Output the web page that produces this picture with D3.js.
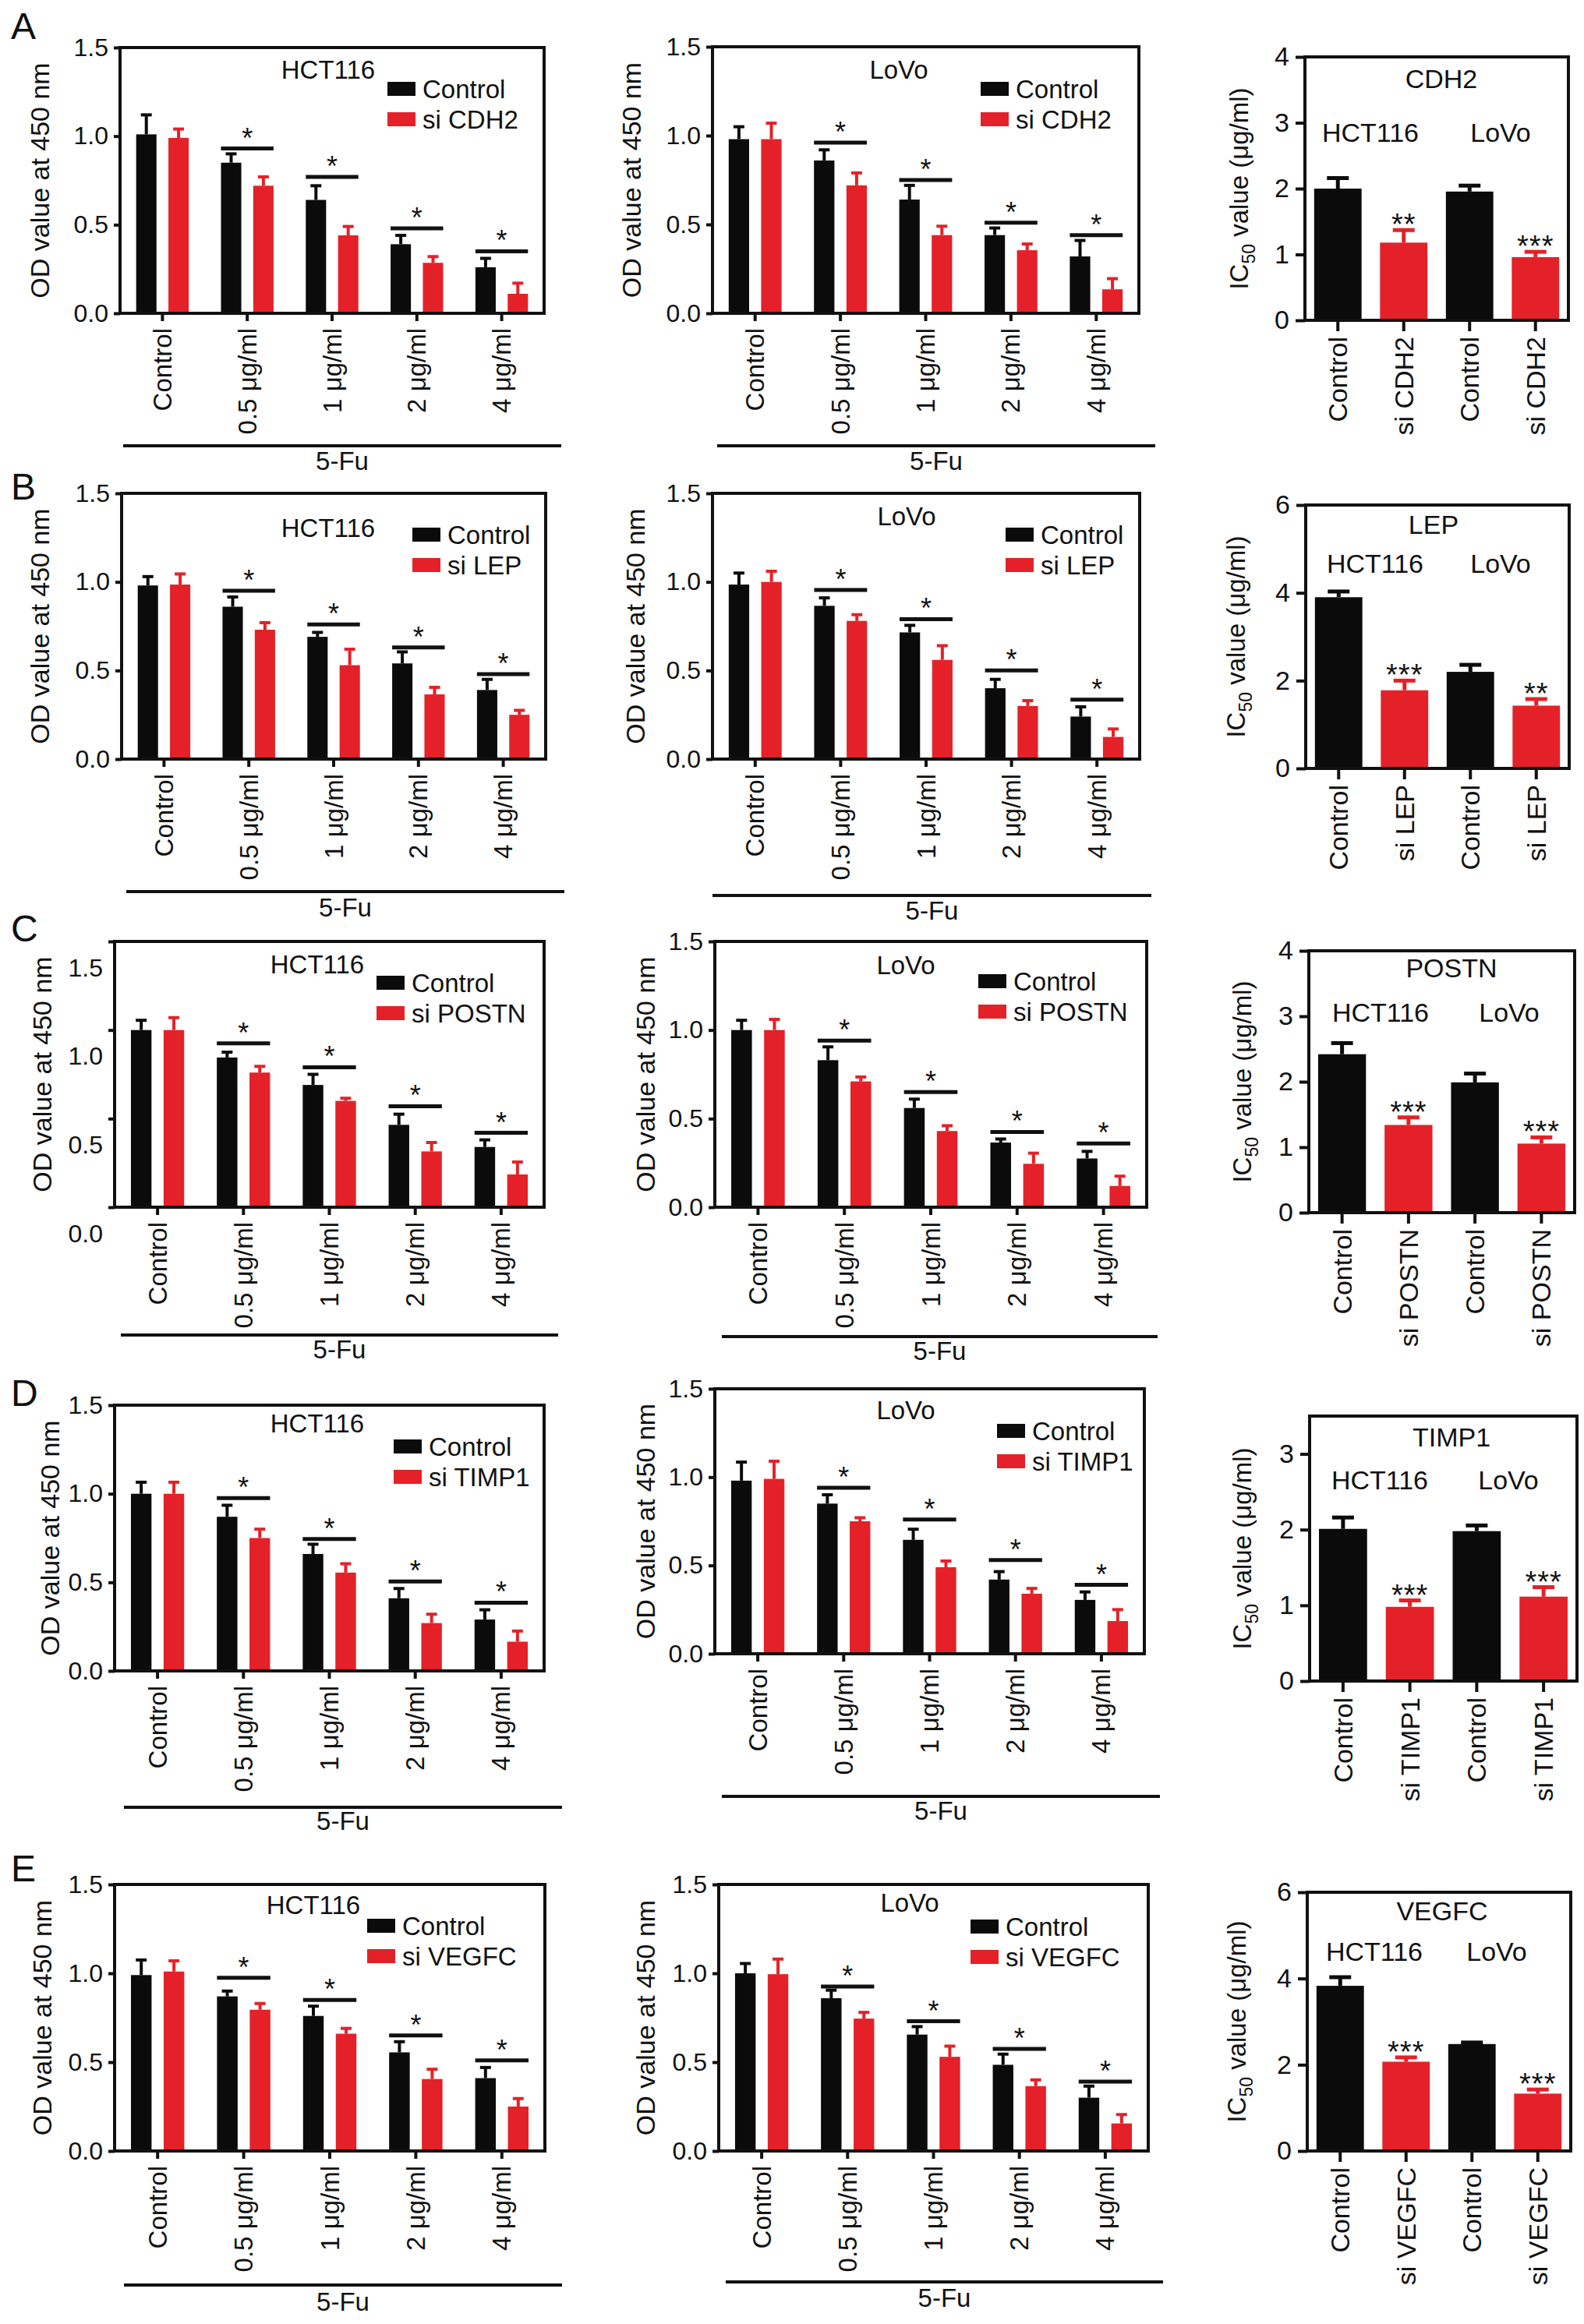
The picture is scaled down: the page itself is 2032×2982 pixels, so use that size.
<!DOCTYPE html>
<html>
<head>
<meta charset="utf-8">
<script src="https://cdn.jsdelivr.net/npm/d3@7"></script>
<style>
  body { margin: 0; background: #fff; }
  svg { display: block; font-family: 'Liberation Sans', Arial, Helvetica, sans-serif; }
</style>
</head>
<body>
<script>
(function() {
  'use strict';

  // ---- data ----
  const doses = ['Control', '0.5 μg/ml', '1 μg/ml', '2 μg/ml', '4 μg/ml'];
  const series = ['Control', 'si'];
  const odTicks = [0, 0.5, 1.0, 1.5];

  // CDH2
  const cdh2HctCtrl = [1.01, 0.85, 0.64, 0.39, 0.26];
  const cdh2HctCtrlErr = [0.11, 0.05, 0.08, 0.05, 0.05];
  const cdh2HctSi = [0.99, 0.72, 0.44, 0.285, 0.11];
  const cdh2HctSiErr = [0.05, 0.05, 0.05, 0.035, 0.06];
  const cdh2HctSig = [null, 0.93, 0.77, 0.48, 0.35];
  const cdh2LovoCtrl = [0.98, 0.86, 0.64, 0.44, 0.32];
  const cdh2LovoCtrlErr = [0.07, 0.06, 0.08, 0.04, 0.09];
  const cdh2LovoSi = [0.98, 0.72, 0.44, 0.355, 0.135];
  const cdh2LovoSiErr = [0.09, 0.07, 0.05, 0.035, 0.06];
  const cdh2LovoSig = [null, 0.96, 0.75, 0.51, 0.44];

  // LEP
  const lepHctCtrl = [0.98, 0.86, 0.69, 0.54, 0.39];
  const lepHctCtrlErr = [0.05, 0.055, 0.025, 0.065, 0.06];
  const lepHctSi = [0.985, 0.73, 0.53, 0.365, 0.25];
  const lepHctSiErr = [0.06, 0.04, 0.09, 0.04, 0.025];
  const lepHctSig = [null, 0.95, 0.76, 0.63, 0.48];
  const lepLovoCtrl = [0.985, 0.865, 0.715, 0.40, 0.24];
  const lepLovoCtrlErr = [0.065, 0.045, 0.04, 0.05, 0.055];
  const lepLovoSi = [1.0, 0.78, 0.56, 0.30, 0.125];
  const lepLovoSiErr = [0.06, 0.035, 0.08, 0.03, 0.045];
  const lepLovoSig = [null, 0.955, 0.79, 0.50, 0.335];

  // POSTN
  const postnHctCtrl = [1.0, 0.845, 0.69, 0.465, 0.34];
  const postnHctCtrlErr = [0.055, 0.03, 0.06, 0.06, 0.04];
  const postnHctSi = [1.0, 0.76, 0.60, 0.315, 0.185];
  const postnHctSiErr = [0.07, 0.035, 0.015, 0.05, 0.07];
  const postnHctSig = [null, 0.925, 0.79, 0.57, 0.42];
  const postnLovoCtrl = [1.0, 0.83, 0.56, 0.365, 0.275];
  const postnLovoCtrlErr = [0.055, 0.075, 0.05, 0.02, 0.04];
  const postnLovoSi = [1.0, 0.71, 0.43, 0.245, 0.12];
  const postnLovoSiErr = [0.06, 0.025, 0.03, 0.06, 0.055];
  const postnLovoSig = [null, 0.94, 0.65, 0.425, 0.36];

  // TIMP1
  const timp1HctCtrl = [1.0, 0.87, 0.66, 0.41, 0.29];
  const timp1HctCtrlErr = [0.065, 0.065, 0.055, 0.055, 0.055];
  const timp1HctSi = [1.0, 0.75, 0.555, 0.27, 0.165];
  const timp1HctSiErr = [0.065, 0.05, 0.05, 0.05, 0.06];
  const timp1HctSig = [null, 0.975, 0.745, 0.505, 0.385];
  const timp1LovoCtrl = [0.98, 0.85, 0.645, 0.42, 0.305];
  const timp1LovoCtrlErr = [0.105, 0.05, 0.06, 0.045, 0.045];
  const timp1LovoSi = [0.99, 0.75, 0.49, 0.34, 0.185];
  const timp1LovoSiErr = [0.10, 0.02, 0.035, 0.03, 0.065];
  const timp1LovoSig = [null, 0.94, 0.76, 0.53, 0.39];

  // VEGFC
  const vegfcHctCtrl = [0.99, 0.87, 0.76, 0.555, 0.41];
  const vegfcHctCtrlErr = [0.085, 0.03, 0.055, 0.06, 0.06];
  const vegfcHctSi = [1.01, 0.795, 0.66, 0.405, 0.25];
  const vegfcHctSiErr = [0.06, 0.035, 0.03, 0.055, 0.045];
  const vegfcHctSig = [null, 0.975, 0.85, 0.65, 0.51];
  const vegfcLovoCtrl = [1.0, 0.86, 0.655, 0.485, 0.30];
  const vegfcLovoCtrlErr = [0.055, 0.045, 0.045, 0.06, 0.065];
  const vegfcLovoSi = [0.995, 0.745, 0.53, 0.365, 0.155];
  const vegfcLovoSiErr = [0.085, 0.035, 0.06, 0.035, 0.05];
  const vegfcLovoSig = [null, 0.925, 0.73, 0.575, 0.39];

  // IC50 (HCT116 control, HCT116 si, LoVo control, LoVo si)
  const cdh2Ic50 = [2.0, 1.18, 1.955, 0.96];
  const cdh2Ic50Err = [0.16, 0.19, 0.09, 0.08];
  const cdh2Stars = ['', '**', '', '***'];
  const lepIc50 = [3.9, 1.78, 2.2, 1.43];
  const lepIc50Err = [0.13, 0.22, 0.16, 0.15];
  const lepStars = ['', '***', '', '**'];
  const postnIc50 = [2.42, 1.34, 1.99, 1.055];
  const postnIc50Err = [0.17, 0.115, 0.135, 0.095];
  const postnStars = ['', '***', '', '***'];
  const timp1Ic50 = [2.01, 0.98, 1.98, 1.115];
  const timp1Ic50Err = [0.15, 0.085, 0.075, 0.125];
  const timp1Stars = ['', '***', '', '***'];
  const vegfcIc50 = [3.83, 2.07, 2.48, 1.33];
  const vegfcIc50Err = [0.20, 0.10, 0.035, 0.095];
  const vegfcStars = ['', '***', '', '***'];

  const ic50Max = [4, 6, 4, 3.5, 6];
  const ic50Ticks = [[0, 1, 2, 3, 4], [0, 2, 4, 6], [0, 1, 2, 3, 4], [0, 1, 2, 3], [0, 2, 4, 6]];

  const black = '#0b0b0b';
  const red = '#e42128';
  const ink = '#111';

  const W = 2032, H = 2982;
  const svg = d3.select('body').append('svg')
    .attr('width', W).attr('height', H);
  svg.append('rect').attr('width', W).attr('height', H).attr('fill', '#fff');

  // ---- layout of the OD panels ----
  const odPanels = [
    {gene: 'CDH2', cell: 'HCT116', ctrl: cdh2HctCtrl, ctrlErr: cdh2HctCtrlErr, si: cdh2HctSi, siErr: cdh2HctSiErr, sig: cdh2HctSig,
      frame: [154, 698, 61, 402], title: [421, 101], legend: [497, 114], yTitleX: 51, fu: [158, 720, 572, 603]},
    {gene: 'CDH2', cell: 'LoVo', ctrl: cdh2LovoCtrl, ctrlErr: cdh2LovoCtrlErr, si: cdh2LovoSi, siErr: cdh2LovoSiErr, sig: cdh2LovoSig,
      frame: [914, 1461, 60, 402], title: [1153, 101], legend: [1258, 114], yTitleX: 810, fu: [920, 1482, 572, 603]},
    {gene: 'LEP', cell: 'HCT116', ctrl: lepHctCtrl, ctrlErr: lepHctCtrlErr, si: lepHctSi, siErr: lepHctSiErr, sig: lepHctSig,
      frame: [156, 700, 633, 974], title: [421, 689], legend: [529, 686], yTitleX: 51, fu: [162, 724, 1144, 1176]},
    {gene: 'LEP', cell: 'LoVo', ctrl: lepLovoCtrl, ctrlErr: lepLovoCtrlErr, si: lepLovoSi, siErr: lepLovoSiErr, sig: lepLovoSig,
      frame: [914, 1462, 633, 974], title: [1163, 674], legend: [1290, 686], yTitleX: 815, fu: [914, 1477, 1149, 1180]},
    {gene: 'POSTN', cell: 'HCT116', ctrl: postnHctCtrl, ctrlErr: postnHctCtrlErr, si: postnHctSi, siErr: postnHctSiErr, sig: postnHctSig,
      frame: [147, 698, 1208, 1549], title: [407, 1249], legend: [483, 1261], yTitleX: 54, fu: [155, 716, 1713, 1743], labelShift: 34},
    {gene: 'POSTN', cell: 'LoVo', ctrl: postnLovoCtrl, ctrlErr: postnLovoCtrlErr, si: postnLovoSi, siErr: postnLovoSiErr, sig: postnLovoSig,
      frame: [917, 1471, 1208, 1549], title: [1162, 1250], legend: [1255, 1259], yTitleX: 828, fu: [926, 1485, 1715, 1745]},
    {gene: 'TIMP1', cell: 'HCT116', ctrl: timp1HctCtrl, ctrlErr: timp1HctCtrlErr, si: timp1HctSi, siErr: timp1HctSiErr, sig: timp1HctSig,
      frame: [147, 698, 1803, 2144], title: [407, 1838], legend: [505, 1856], yTitleX: 64, fu: [159, 721, 2319, 2348]},
    {gene: 'TIMP1', cell: 'LoVo', ctrl: timp1LovoCtrl, ctrlErr: timp1LovoCtrlErr, si: timp1LovoSi, siErr: timp1LovoSiErr, sig: timp1LovoSig,
      frame: [917, 1468, 1782, 2122], title: [1162, 1821], legend: [1279, 1836], yTitleX: 828, fu: [926, 1488, 2305, 2335]},
    {gene: 'VEGFC', cell: 'HCT116', ctrl: vegfcHctCtrl, ctrlErr: vegfcHctCtrlErr, si: vegfcHctSi, siErr: vegfcHctSiErr, sig: vegfcHctSig,
      frame: [147, 699, 2418, 2760], title: [402, 2456], legend: [471, 2471], yTitleX: 54, fu: [159, 721, 2932, 2965]},
    {gene: 'VEGFC', cell: 'LoVo', ctrl: vegfcLovoCtrl, ctrlErr: vegfcLovoCtrlErr, si: vegfcLovoSi, siErr: vegfcLovoSiErr, sig: vegfcLovoSig,
      frame: [922, 1473, 2418, 2760], title: [1167, 2453], legend: [1245, 2472], yTitleX: 828, fu: [931, 1492, 2928, 2960]}
  ];

  const icPanels = [
    {gene: 'CDH2', vals: cdh2Ic50, errs: cdh2Ic50Err, stars: cdh2Stars, frame: [1674, 2012, 73, 411],
      geneTitle: [1849, 113], cellY: 182, cellX: [1758, 1925], yTitleX: 1589},
    {gene: 'LEP', vals: lepIc50, errs: lepIc50Err, stars: lepStars, frame: [1675, 2013, 648, 986],
      geneTitle: [1839, 685], cellY: 735, cellX: [1764, 1925], yTitleX: 1585},
    {gene: 'POSTN', vals: postnIc50, errs: postnIc50Err, stars: postnStars, frame: [1679, 2020, 1220, 1556],
      geneTitle: [1862, 1254], cellY: 1311, cellX: [1771, 1936], yTitleX: 1593},
    {gene: 'TIMP1', vals: timp1Ic50, errs: timp1Ic50Err, stars: timp1Stars, frame: [1680, 2023, 1817, 2157],
      geneTitle: [1862, 1856], cellY: 1911, cellX: [1770, 1935], yTitleX: 1593},
    {gene: 'VEGFC', vals: vegfcIc50, errs: vegfcIc50Err, stars: vegfcStars, frame: [1677, 2015, 2428, 2760],
      geneTitle: [1850, 2464], cellY: 2516, cellX: [1763, 1920], yTitleX: 1586}
  ];

  const letters = [['A', 14, 50], ['B', 14, 641], ['C', 14, 1208], ['D', 14, 1804], ['E', 14, 2414]];

  svg.selectAll('text.letter')
    .data(letters)
    .enter()
    .append('text')
    .attr('class', 'letter')
    .attr('x', (d) => d[1])
    .attr('y', (d) => d[2])
    .attr('font-size', 48)
    .attr('fill', ink)
    .text((d) => d[0]);

  function drawOd(p) {
    const [l, r, t, b] = p.frame;
    const g = svg.append('g');

    const x = d3.scaleBand().domain(doses).range([l, r]);
    const xs = d3.scaleBand().domain(series).range([0, x.bandwidth()])
      .paddingInner(0.37).paddingOuter(0.5);
    const y = d3.scaleLinear().domain([0, 1.5]).range([b, t]);

    const rows = doses.map((d, i) => ({
      dose: d,
      vals: [p.ctrl[i], p.si[i]],
      errs: [p.ctrlErr[i], p.siErr[i]],
      sig: p.sig[i]
    }));

    // bars
    const grp = g.selectAll('g.dose')
      .data(rows)
      .enter()
      .append('g')
      .attr('transform', (d) => 'translate(' + x(d.dose) + ',0)');

    grp.selectAll('rect')
      .data((d) => series.map((s, k) => ({s: s, v: d.vals[k], e: d.errs[k]})))
      .enter()
      .append('rect')
      .attr('x', (d) => xs(d.s))
      .attr('y', (d) => y(d.v))
      .attr('width', xs.bandwidth())
      .attr('height', (d) => b - y(d.v))
      .attr('fill', (d) => d.s === 'Control' ? black : red);

    // error bars
    const eb = grp.selectAll('g.err')
      .data((d) => series.map((s, k) => ({s: s, v: d.vals[k], e: d.errs[k]})))
      .enter()
      .append('g')
      .attr('stroke', (d) => d.s === 'Control' ? black : red)
      .attr('stroke-width', 4);
    eb.append('line')
      .attr('x1', (d) => xs(d.s) + xs.bandwidth() / 2)
      .attr('x2', (d) => xs(d.s) + xs.bandwidth() / 2)
      .attr('y1', (d) => y(d.v))
      .attr('y2', (d) => y(d.v + d.e));
    eb.append('line')
      .attr('x1', (d) => xs(d.s) + xs.bandwidth() / 2 - 7)
      .attr('x2', (d) => xs(d.s) + xs.bandwidth() / 2 + 7)
      .attr('y1', (d) => y(d.v + d.e))
      .attr('y2', (d) => y(d.v + d.e));

    // significance bars
    const sg = grp.filter((d) => d.sig !== null);
    sg.append('line')
      .attr('x1', xs('Control'))
      .attr('x2', xs('si') + xs.bandwidth())
      .attr('y1', (d) => y(d.sig))
      .attr('y2', (d) => y(d.sig))
      .attr('stroke', ink)
      .attr('stroke-width', 5);
    sg.append('text')
      .attr('x', x.bandwidth() / 2)
      .attr('y', (d) => y(d.sig) - 1)
      .attr('text-anchor', 'middle')
      .attr('font-size', 36)
      .attr('fill', ink)
      .text('*');

    // axes
    const yAxis = d3.axisLeft(y).tickValues(odTicks).tickFormat(d3.format('.1f'))
      .tickSize(8).tickSizeOuter(0).tickPadding(7);
    const ya = g.append('g')
      .attr('transform', 'translate(' + l + ',0)')
      .call(yAxis);
    ya.select('.domain').remove();
    ya.selectAll('line').attr('stroke', ink).attr('stroke-width', 4);
    ya.selectAll('text').attr('font-size', 32).attr('fill', ink)
      .attr('transform', 'translate(0,' + (p.labelShift || 0) + ')');

    const xAxis = d3.axisBottom(x).tickSize(10).tickSizeOuter(0);
    const xa = g.append('g')
      .attr('transform', 'translate(0,' + b + ')')
      .call(xAxis);
    xa.select('.domain').remove();
    xa.selectAll('line').attr('stroke', ink).attr('stroke-width', 4);
    xa.selectAll('text')
      .attr('font-size', 33)
      .attr('fill', ink)
      .attr('transform', 'rotate(-90)')
      .attr('x', -19)
      .attr('y', 0)
      .attr('dy', '0.35em')
      .style('text-anchor', 'end');

    // frame
    g.append('rect')
      .attr('x', l).attr('y', t)
      .attr('width', r - l).attr('height', b - t)
      .attr('fill', 'none')
      .attr('stroke', ink)
      .attr('stroke-width', 4);

    // y title
    g.append('text')
      .attr('transform', 'translate(' + p.yTitleX + ',' + ((t + b) / 2) + ') rotate(-90)')
      .attr('dy', '0.35em')
      .attr('text-anchor', 'middle')
      .attr('font-size', 34)
      .attr('fill', ink)
      .text('OD value at 450 nm');

    // cell line title
    g.append('text')
      .attr('x', p.title[0]).attr('y', p.title[1])
      .attr('text-anchor', 'middle')
      .attr('font-size', 33)
      .attr('fill', ink)
      .text(p.cell);

    // legend
    const leg = g.selectAll('g.leg')
      .data([['Control', black], ['si ' + p.gene, red]])
      .enter()
      .append('g')
      .attr('transform', (d, i) => 'translate(' + p.legend[0] + ',' + (p.legend[1] + i * 39) + ')');
    leg.append('rect')
      .attr('x', 0).attr('y', -9)
      .attr('width', 36).attr('height', 18)
      .attr('fill', (d) => d[1]);
    leg.append('text')
      .attr('x', 45).attr('y', 0)
      .attr('dy', '0.35em')
      .attr('font-size', 33)
      .attr('fill', ink)
      .text((d) => d[0]);

    // 5-Fu bracket
    g.append('line')
      .attr('x1', p.fu[0]).attr('x2', p.fu[1])
      .attr('y1', p.fu[2]).attr('y2', p.fu[2])
      .attr('stroke', ink).attr('stroke-width', 4);
    g.append('text')
      .attr('x', (p.fu[0] + p.fu[1]) / 2).attr('y', p.fu[3])
      .attr('text-anchor', 'middle')
      .attr('font-size', 33)
      .attr('fill', ink)
      .text('5-Fu');
  }

  function drawIc(p, idx) {
    const [l, r, t, b] = p.frame;
    const g = svg.append('g');
    const labels = ['Control', 'si ' + p.gene, 'Control', 'si ' + p.gene];
    const keys = labels.map((d, i) => String(i));

    const x = d3.scaleBand().domain(keys).range([l, r]).paddingInner(0.28).paddingOuter(0.14);
    const y = d3.scaleLinear().domain([0, ic50Max[idx]]).range([b, t]);

    const rows = keys.map((k, i) => ({k: k, v: p.vals[i], e: p.errs[i], star: p.stars[i], c: i % 2 ? red : black}));

    g.selectAll('rect.bar')
      .data(rows)
      .enter()
      .append('rect')
      .attr('x', (d) => x(d.k))
      .attr('y', (d) => y(d.v))
      .attr('width', x.bandwidth())
      .attr('height', (d) => b - y(d.v))
      .attr('fill', (d) => d.c);

    const eb = g.selectAll('g.err')
      .data(rows)
      .enter()
      .append('g')
      .attr('stroke', (d) => d.c)
      .attr('stroke-width', 5);
    eb.append('line')
      .attr('x1', (d) => x(d.k) + x.bandwidth() / 2)
      .attr('x2', (d) => x(d.k) + x.bandwidth() / 2)
      .attr('y1', (d) => y(d.v))
      .attr('y2', (d) => y(d.v + d.e));
    eb.append('line')
      .attr('x1', (d) => x(d.k) + x.bandwidth() / 2 - 14)
      .attr('x2', (d) => x(d.k) + x.bandwidth() / 2 + 14)
      .attr('y1', (d) => y(d.v + d.e))
      .attr('y2', (d) => y(d.v + d.e));

    g.selectAll('text.star')
      .data(rows.filter((d) => d.star))
      .enter()
      .append('text')
      .attr('x', (d) => x(d.k) + x.bandwidth() / 2)
      .attr('y', (d) => y(d.v + d.e) + 6)
      .attr('text-anchor', 'middle')
      .attr('font-size', 38)
      .attr('letter-spacing', 1)
      .attr('fill', ink)
      .text((d) => d.star);

    const yAxis = d3.axisLeft(y).tickValues(ic50Ticks[idx]).tickFormat(d3.format('d'))
      .tickSize(12).tickSizeOuter(0).tickPadding(8);
    const ya = g.append('g')
      .attr('transform', 'translate(' + l + ',0)')
      .call(yAxis);
    ya.select('.domain').remove();
    ya.selectAll('line').attr('stroke', ink).attr('stroke-width', 4);
    ya.selectAll('text').attr('font-size', 34).attr('fill', ink);

    const xAxis = d3.axisBottom(x).tickSize(14).tickSizeOuter(0)
      .tickFormat((d, i) => labels[i]);
    const xa = g.append('g')
      .attr('transform', 'translate(0,' + b + ')')
      .call(xAxis);
    xa.select('.domain').remove();
    xa.selectAll('line').attr('stroke', ink).attr('stroke-width', 4);
    xa.selectAll('text')
      .attr('font-size', 34)
      .attr('fill', ink)
      .attr('transform', 'rotate(-90)')
      .attr('x', -21)
      .attr('y', 0)
      .attr('dy', '0.35em')
      .style('text-anchor', 'end');

    g.append('rect')
      .attr('x', l).attr('y', t)
      .attr('width', r - l).attr('height', b - t)
      .attr('fill', 'none')
      .attr('stroke', ink)
      .attr('stroke-width', 4);

    const yt = g.append('text')
      .attr('transform', 'translate(' + p.yTitleX + ',' + ((t + b) / 2) + ') rotate(-90)')
      .attr('dy', '0.35em')
      .attr('text-anchor', 'middle')
      .attr('font-size', 33)
      .attr('fill', ink);
    yt.append('tspan').text('IC');
    yt.append('tspan').attr('font-size', 23).attr('dy', 9).text('50');
    yt.append('tspan').attr('dy', -9).text(' value (μg/ml)');

    g.append('text')
      .attr('x', p.geneTitle[0]).attr('y', p.geneTitle[1])
      .attr('text-anchor', 'middle')
      .attr('font-size', 34)
      .attr('fill', ink)
      .text(p.gene);

    g.selectAll('text.cell')
      .data(['HCT116', 'LoVo'])
      .enter()
      .append('text')
      .attr('x', (d, i) => p.cellX[i])
      .attr('y', p.cellY)
      .attr('text-anchor', 'middle')
      .attr('font-size', 34)
      .attr('fill', ink)
      .text((d) => d);
  }

  odPanels.forEach(drawOd);
  icPanels.forEach(drawIc);
}());
</script>
</body>
</html>
